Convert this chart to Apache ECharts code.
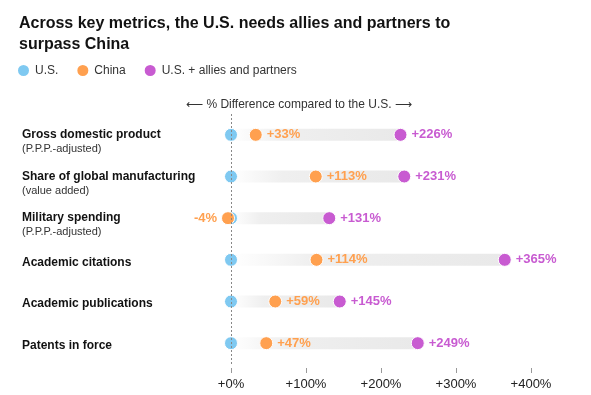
<!DOCTYPE html>
<html>
<head>
<meta charset="utf-8">
<script src="https://cdn.jsdelivr.net/npm/echarts@6/dist/echarts.min.js"></script>
<style>
html,body{margin:0;padding:0;background:#fff;}
#chart{width:591px;height:395px;}
</style>
</head>
<body>
<div id="chart"></div>
<script>
var categories = ['Gross domestic product', 'Share of global manufacturing', 'Military spending', 'Academic citations', 'Academic publications', 'Patents in force'];
var subtitles = ['(P.P.P.-adjusted)', '(value added)', '(P.P.P.-adjusted)', '', '', ''];
var usValues = [0, 0, 0, 0, 0, 0];
var chinaValues = [33, 113, -4, 114, 59, 47];
var alliesValues = [226, 231, 131, 365, 145, 249];
var tickValues = [0, 100, 200, 300, 400];
var seriesNames = ['U.S.', 'China', 'U.S. + allies and partners'];

var BLUE = '#7fc9f1', ORANGE = '#ffa04f', PURPLE = '#c85bd1';
var FONT = '"Liberation Sans", Arial, sans-serif';

function fmt(v) { return (v < 0 ? '' : '+') + v + '%'; }

var chinaData = chinaValues.map(function (v) {
  return { value: v, label: { position: v < 0 ? 'left' : 'right' } };
});

var chart = echarts.init(document.getElementById('chart'));
chart.setOption({
  animation: false,
  title: [{
    text: 'Across key metrics, the U.S. needs allies and partners to\nsurpass China',
    left: 14, top: 8,
    textStyle: { fontFamily: FONT, fontSize: 16, fontWeight: 'bold', color: '#121212', lineHeight: 21 }
  }, {
    text: '\u27F5 % Difference compared to the U.S. \u27F6',
    left: 294, top: 94, textAlign: 'center',
    textStyle: { fontFamily: FONT, fontSize: 12, fontWeight: 'normal', color: '#333' }
  }],
  legend: {
    left: 11, top: 58,
    icon: 'circle', itemWidth: 13, itemHeight: 13, itemGap: 17,
    textStyle: { fontFamily: FONT, fontSize: 12, color: '#333' },
    data: seriesNames
  },
  grid: { left: 156, right: 0, top: 114, bottom: 31 },
  xAxis: {
    type: 'value', min: -100, max: 480, interval: 100, offset: 4,
    axisLine: { show: false },
    splitLine: { show: false },
    axisTick: { show: true, length: 5, lineStyle: { color: '#999' }, customValues: tickValues },
    axisLabel: { customValues: tickValues, formatter: fmt, margin: 10, fontFamily: FONT, fontSize: 13, color: '#222' }
  },
  yAxis: {
    type: 'category', inverse: true, data: categories,
    axisLine: { show: false }, axisTick: { show: false },
    axisLabel: {
      align: 'left', margin: 134,
      formatter: function (v, i) {
        var s = subtitles[i];
        return s ? '{s| }\n{t|' + v + '}\n{s|' + s + '}' : '{u|' + v + '}';
      },
      rich: {
        t: { fontFamily: FONT, fontSize: 12, fontWeight: 'bold', color: '#121212', lineHeight: 14 },
        u: { fontFamily: FONT, fontSize: 12, fontWeight: 'bold', color: '#121212', lineHeight: 14, padding: [5, 0, 0, 0] },
        s: { fontFamily: FONT, fontSize: 11, color: '#333', lineHeight: 14 }
      }
    }
  },
  series: [{
    type: 'bar', name: 'range', data: alliesValues, barWidth: 12, silent: true,
    itemStyle: {
      color: new echarts.graphic.LinearGradient(0, 0, 1, 0, [
        { offset: 0, color: '#ffffff' }, { offset: 0.3, color: '#efefef' }, { offset: 1, color: '#e9e9e9' }
      ])
    },
    markLine: {
      silent: true, symbol: 'none', label: { show: false },
      lineStyle: { type: [2, 2], color: '#888', width: 1 },
      data: [{ xAxis: 0 }]
    },
    z: 1
  }, {
    type: 'scatter', name: seriesNames[0], data: usValues, symbolSize: 13,
    itemStyle: { color: BLUE, borderColor: '#fff', borderWidth: 1, opacity: 1 }, z: 3
  }, {
    type: 'scatter', name: seriesNames[1], data: chinaData, symbolSize: 13,
    itemStyle: { color: ORANGE, borderColor: '#fff', borderWidth: 1, opacity: 1 }, z: 4,
    label: {
      show: true, position: 'right', distance: 4,
      formatter: function (p) { return fmt(p.value); },
      fontFamily: FONT, fontSize: 13, fontWeight: 'bold', color: ORANGE
    }
  }, {
    type: 'scatter', name: seriesNames[2], data: alliesValues, symbolSize: 13,
    itemStyle: { color: PURPLE, borderColor: '#fff', borderWidth: 1, opacity: 1 }, z: 4,
    label: {
      show: true, position: 'right', distance: 4,
      formatter: function (p) { return fmt(p.value); },
      fontFamily: FONT, fontSize: 13, fontWeight: 'bold', color: PURPLE
    }
  }]
});
</script>
</body>
</html>
